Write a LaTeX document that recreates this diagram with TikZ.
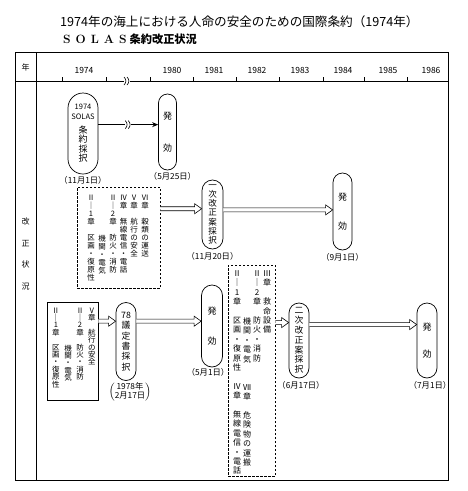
\documentclass[tikz,border=0pt]{standalone}
\usepackage{fontspec}
\newfontfamily\jp{Noto Sans CJK JP}
\usetikzlibrary{arrows.meta, positioning, calc}

% small break mark on a line
\newcommand{\gapmark}[1]{%
  \fill[white] ($(#1)+(-3pt,-4.5pt)$) rectangle ($(#1)+(2.5pt,4.5pt)$);
  \draw[line width=0.6pt] ($(#1)+(-3pt,4pt)$) .. controls ($(#1)+(-0.5pt,1.5pt)$) and ($(#1)+(-0.5pt,-1.5pt)$) .. ($(#1)+(-3pt,-4pt)$);
  \draw[line width=0.6pt] ($(#1)+(0pt,4pt)$) .. controls ($(#1)+(2.5pt,1.5pt)$) and ($(#1)+(2.5pt,-1.5pt)$) .. ($(#1)+(0pt,-4pt)$);
}

\begin{document}
\begin{tikzpicture}[
    x=1pt, y=-1pt,
    every node/.style={inner sep=0pt, font=\jp\fontsize{8}{9}\selectfont},
    stage/.style={rectangle, draw, line width=0.7pt, rounded corners=#1/2, minimum width=#1, align=center, font=\jp\fontsize{9}{9.6}\selectfont},
    chapbox/.style={rectangle, draw, line width=0.7pt},
    dashbox/.style={chapbox, dash pattern=on 2.5pt off 1.5pt},
    vcol/.style={align=center, anchor=north, font=\jp\fontsize{7.5}{8}\selectfont},
    date/.style={font=\jp\fontsize{8.3}{9.3}\selectfont},
    fat/.style={draw, line width=0.6pt, fill=white, to path={let \p1=(\tikztostart), \p2=(\tikztotarget) in
      (\x1,\y1+2pt) -- (\x2-7pt,\y1+2pt) -- (\x2-7pt,\y1+5pt) -- (\x2,\y1) -- (\x2-7pt,\y1-5pt) -- (\x2-7pt,\y1-2pt) -- (\x1,\y1-2pt)}},
    thinarr/.style={line width=1.1pt, -{Stealth[length=6pt, width=5pt]}}
]
\useasboundingbox (0,0) rectangle (468,491);

% --- title
\node[anchor=west, font=\jp\fontsize{12.6}{14}\selectfont] (ttl1) at (60,22) {1974年の海上における人命の安全のための国際条約（1974年）};
\node[anchor=west] (ttl2) at (63,39) {\fontsize{12}{14}\selectfont\rmfamily\bfseries S\hspace{5pt}O\hspace{5pt}L\hspace{5pt}A\hspace{5pt}S\hspace{3pt}\jp\fontsize{11.2}{13}\selectfont 条約改正状況};

% --- table frame
\draw[line width=0.8pt] (15,52) rectangle (448,480);
\draw[line width=0.8pt] (36,52) -- (36,480);
\draw[line width=0.8pt] (15,81) -- (448,81);
\node (hyear) at (25.5,67) {年};
\node[align=center, font=\jp\fontsize{8}{21.7}\selectfont] (hstat) at (25.5,254) {改\\正\\状\\況};

% --- years and ticks
\foreach \yr/\xx in {1974/84, 1980/172, 1981/214, 1982/257, 1983/300, 1984/343, 1985/388, 1986/431}
  \node[font=\jp\fontsize{8.5}{9}\selectfont] (y\yr) at (\xx,70) {\yr};
\foreach \xx in {62,106,150,193,236,279,323,364,407}
  \draw[line width=0.6pt] (\xx,81) -- (\xx,77);
\coordinate (hgap) at (127,81);
\gapmark{hgap}

% --- 1974 adoption
\node[stage=30pt, minimum height=81pt] (solas) at (83,133.5) {{\fontsize{7.5}{9}\selectfont 1974}\\{\fontsize{7.5}{9}\selectfont SOLAS}\\[4pt]条\\約\\採\\択};
\node[stage=18pt, minimum height=76pt] (hakko1) at (167.5,132) {発\\[22pt]効};
\node[date, below=1.5pt of solas] (d1) {（11月1日）};
\node[date, below=1.5pt of hakko1, xshift=5pt] (d2) {（5月25日）};
\draw[thinarr] (solas.30) -- (solas.30 -| hakko1.west);
\path (solas.30) -- coordinate[pos=0.5] (gap1) (solas.30 -| hakko1.west);
\gapmark{gap1}

% --- first amendment
\node[dashbox, minimum width=83pt, minimum height=101pt] (box1) at (118.5,237.5) {};
\node[vcol] (b1c1) at (91,194.5) {Ⅱ\\｜\\1\\章\\[8pt]区\\画\\・\\復\\原\\性};
\node[vcol] (b1c2) at (102,234.5) {機\\関\\・\\電\\気};
\node[vcol] (b1c3) at (113,194.5) {Ⅱ\\｜\\2\\章\\[8pt]防\\火\\・\\消\\防};
\node[vcol] (b1c4) at (123.5,194.5) {Ⅳ\\章\\[8pt]無\\線\\電\\信\\・\\電\\話};
\node[vcol] (b1c5) at (134,194.5) {Ⅴ\\章\\[8pt]航\\行\\の\\安\\全};
\node[vcol] (b1c6) at (145,194.5) {Ⅵ\\章\\[8pt]穀\\類\\の\\運\\送};

\node[stage=21pt, minimum height=69pt, font=\jp\fontsize{8.5}{9.3}\selectfont] (kaisei1) at (212.5,214.5) {一\\次\\改\\正\\案\\採\\択};
\node[stage=19pt, minimum height=77pt] (hakko2) at (342.5,211.5) {発\\[20pt]効};
\node[date, below=3pt of kaisei1] (d3) {（11月20日）};
\node[date, below=3pt of hakko2] (d4) {（9月1日）};
\draw[fat] (box1.east |- kaisei1.152) to (kaisei1.152);
\draw[fat] (kaisei1.23) to (kaisei1.23 -| hakko2.west);

% --- 1978 protocol
\node[chapbox, minimum width=51pt, minimum height=98pt] (box2) at (72.5,351) {};
\node[vcol, font=\jp\fontsize{7.5}{7.4}\selectfont] (b2c1) at (56,307.5) {Ⅱ\\｜\\1\\章\\[7.4pt]区\\画\\・\\復\\原\\性};
\node[vcol, font=\jp\fontsize{7.5}{7.4}\selectfont] (b2c2) at (68,344.5) {機\\関\\・\\電\\気};
\node[vcol, font=\jp\fontsize{7.5}{7.4}\selectfont] (b2c3) at (80,307.5) {Ⅱ\\｜\\2\\章\\[7.4pt]防\\火\\・\\消\\防};
\node[vcol, font=\jp\fontsize{7.5}{7.4}\selectfont] (b2c4) at (92,307.5) {Ⅴ\\章\\[7.4pt]航\\行\\の\\安\\全};

\node[stage=20pt, minimum height=78pt, font=\jp\fontsize{8.8}{10.4}\selectfont] (proto) at (126,341.5) {78\\議\\定\\書\\採\\択};
\node[stage=21pt, minimum height=82pt] (hakko3) at (212,326) {発\\[20pt]効};
\node[date, below=1pt of proto, xshift=4pt] (d5) {$\left(\begin{tabular}{@{}c@{}}1978年\\2月17日\end{tabular}\right)$};
\node[date, below=1pt of hakko3, xshift=-4pt] (d6) {（5月1日）};
\draw[fat] (box2.east |- proto.117) to (proto.117);
\draw[fat] (proto.63) to (proto.63 -| hakko3.west);

% --- second amendment
\node[dashbox, minimum width=47pt, minimum height=211pt] (box3) at (251.5,370.5) {};
\node[vcol, font=\jp\fontsize{8}{9.4}\selectfont] (b3c1) at (237,270.5) {Ⅱ\\｜\\1\\章\\[9.4pt]区\\画\\・\\復\\原\\性\\[9.4pt]Ⅳ\\章\\[9.4pt]無\\線\\電\\信\\・\\電\\話};
\node[vcol, font=\jp\fontsize{8}{9.4}\selectfont] (b3c2) at (247,317.5) {機\\関\\・\\電\\気\\[18.8pt]Ⅶ\\章\\[9.4pt]危\\険\\物\\の\\運\\搬};
\node[vcol, font=\jp\fontsize{8}{9.4}\selectfont] (b3c3) at (257,270.5) {Ⅱ\\｜\\2\\章\\[9.4pt]防\\火\\・\\消\\防};
\node[vcol, font=\jp\fontsize{8}{9.4}\selectfont] (b3c4) at (267,270.5) {Ⅲ\\章\\[9.4pt]救\\命\\設\\備};

\node[stage=20pt, minimum height=75pt, font=\jp\fontsize{8.8}{9.8}\selectfont] (kaisei2) at (299,340.5) {二\\次\\改\\正\\案\\採\\択};
\node[stage=20pt, minimum height=75pt] (hakko4) at (427,340.5) {発\\[17pt]効};
\node[date, below=3pt of kaisei2, xshift=2pt] (d7) {（6月17日）};
\node[date, below=3pt of hakko4, xshift=3pt] (d8) {（7月1日）};
\draw[fat] (box3.east |- kaisei2.120) to (kaisei2.120);
\draw[fat] (kaisei2.57) to (kaisei2.57 -| hakko4.west);

\end{tikzpicture}
\end{document}
